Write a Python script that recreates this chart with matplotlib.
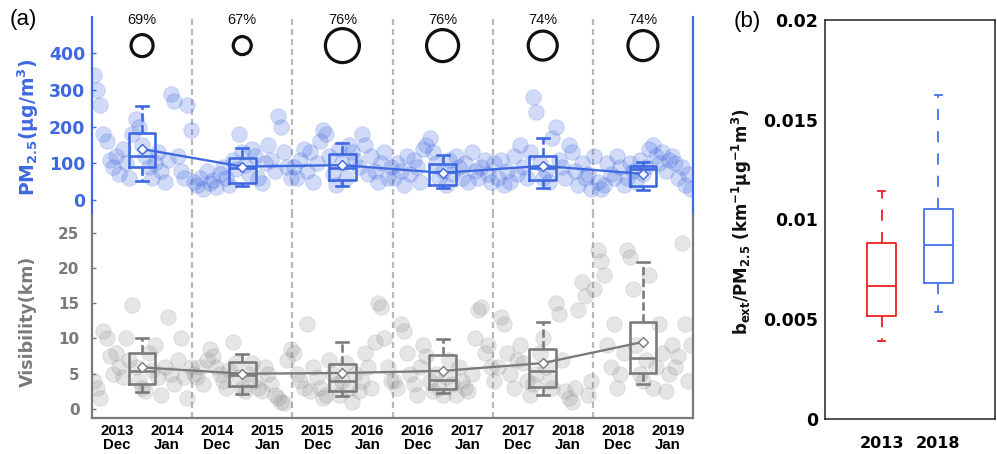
import numpy as np
import matplotlib
matplotlib.use('Agg')
import matplotlib.pyplot as plt

plt.rcParams['font.family'] = ['Liberation Sans', 'DejaVu Sans']
plt.rcParams['mathtext.fontset'] = 'custom'
plt.rcParams['mathtext.rm'] = 'DejaVu Sans:bold'
plt.rcParams['mathtext.it'] = 'DejaVu Sans:bold'
plt.rcParams['mathtext.bf'] = 'DejaVu Sans:bold'
plt.rcParams['mathtext.default'] = 'rm'
plt.rcParams['lines.scale_dashes'] = False

# ---------------- data ----------------
season_tick_labels = ["2013\nDec", "2014\nJan", "2014\nDec", "2015\nJan", "2015\nDec", "2016\nJan",
                      "2016\nDec", "2017\nJan", "2017\nDec", "2018\nJan", "2018\nDec", "2019\nJan"]
percent_labels = ["69%", "67%", "76%", "76%", "74%", "74%"]
circle_diam_px = [22, 18, 34, 32, 29, 30]

pm_daily = [
    [340, 300, 260, 180, 160, 110, 90, 120, 70, 140, 100, 60, 180, 220, 200, 150, 120, 90, 60, 100, 130, 80, 50, 110, 290, 270, 120, 80, 60, 260, 190],
    [50, 40, 60, 30, 80, 45, 55, 35, 70, 90, 60, 40, 110, 85, 180, 130, 95, 70, 140, 120, 60, 45, 100, 150, 110, 80, 230, 200, 130, 90, 60],
    [90, 60, 110, 140, 80, 130, 50, 100, 160, 190, 180, 120, 70, 40, 140, 100, 60, 150, 130, 110, 90, 180, 150, 70, 120, 80, 50, 100, 130, 60, 90],
    [60, 100, 80, 40, 120, 70, 110, 90, 50, 140, 150, 170, 130, 100, 60, 80, 40, 110, 70, 120, 90, 60, 100, 50, 130, 80, 60, 90, 110, 70, 50],
    [100, 60, 110, 40, 80, 50, 120, 70, 150, 90, 60, 130, 280, 240, 100, 60, 80, 50, 170, 200, 110, 90, 60, 150, 130, 80, 40, 100, 60, 70, 30],
    [120, 50, 30, 40, 100, 70, 60, 120, 90, 40, 60, 100, 80, 50, 110, 70, 90, 140, 150, 120, 100, 130, 80, 110, 120, 100, 60, 90, 40, 70, 30],
]
vis_daily = [
    [4, 3, 1.5, 11, 10, 7.5, 5, 8, 6, 4.5, 10, 7, 14.7, 6, 4, 3, 2.5, 8, 5.5, 9, 4.5, 2, 6, 13, 5, 3.5, 7, 10, 4.5, 1.5, 6],
    [5, 4.5, 6, 3.5, 7, 8.5, 7.5, 6, 5, 4, 3, 5.5, 9.5, 6.5, 4.5, 3, 2.5, 5, 6.5, 4, 3, 2.5, 6, 5, 3.5, 2, 1.5, 1, 0.8, 7, 8.5],
    [8, 5, 4, 3, 12, 2.5, 6, 4.5, 3, 1.5, 2, 7, 5, 3.5, 2, 4, 6.5, 3, 1, 5, 2.5, 4, 8, 6, 3, 9.5, 15, 14.5, 10, 6, 4],
    [4, 3, 12, 11, 8, 5, 3.5, 2, 6, 9, 7.5, 4, 2.5, 5, 3, 2, 4.5, 7, 3.5, 2, 6, 4, 3, 2.5, 5, 10, 14, 14.5, 8, 9, 6],
    [4, 6, 13, 12, 8, 5, 3, 7, 9, 6.5, 4, 2, 3.5, 5, 8, 10, 6, 4, 3, 15, 13.5, 7, 2.5, 1.5, 1, 3, 14, 18, 16, 2, 4],
    [17, 22.5, 21, 19, 9, 6, 12, 3, 5, 8, 22.5, 21.5, 17, 9, 5, 4, 7, 19, 3, 6, 12, 8, 2.5, 5, 9, 6, 7.5, 23.5, 12, 4, 9],
]

pm_whislo = [52, 39, 38, 32, 32, 27]
pm_q1 = [89, 47, 54, 41, 54, 39]
pm_med = [120, 86, 88, 75, 86, 84]
pm_q3 = [184, 114, 126, 97, 121, 93]
pm_whishi = [256, 142, 156, 123, 170, 104]
pm_mean = [139, 91, 95, 74, 93, 71]

vis_whislo = [2.4, 2.1, 1.9, 2.3, 2.0, 3.6]
vis_q1 = [3.5, 3.2, 2.5, 2.9, 3.1, 5.1]
vis_med = [5.4, 4.8, 3.9, 4.1, 5.4, 7.2]
vis_q3 = [8.0, 6.7, 6.4, 7.6, 8.5, 12.4]
vis_whishi = [10.1, 7.8, 9.5, 9.9, 12.4, 20.8]
vis_mean = [5.9, 5.0, 5.1, 5.4, 6.5, 9.5]

ratio_years = ["2013", "2018"]
ratio_whislo = [0.00392, 0.00534]
ratio_q1 = [0.00518, 0.0068]
ratio_med = [0.00665, 0.0087]
ratio_q3 = [0.0088, 0.01052]
ratio_whishi = [0.01145, 0.01624]

# ---------------- styling ----------------
BLUE = '#3d68e0'
GREY = '#7a7a7a'
DASHC = '#b8b8b8'
W, H = 997, 454
fig = plt.figure(figsize=(W / 100, H / 100), dpi=100)
PX = 0.72  # points per pixel

ndays = 62
nseason = 6
centers = [ndays * i + ndays / 2 for i in range(nseason)]
tick_pos = []
for i in range(nseason):
    tick_pos += [ndays * i + ndays / 4, ndays * i + 3 * ndays / 4]

def fx(px):
    return px / W

def fy(py):
    return (H - py) / H

ax_pm = fig.add_axes([fx(92), fy(215), fx(693) - fx(92), fy(17) - fy(215)])
ax_vis = fig.add_axes([fx(92), fy(418), fx(693) - fx(92), fy(215) - fy(418)])

def stats(lo, q1, med, q3, hi):
    return [dict(whislo=a, q1=b, med=c, q3=d, whishi=e, fliers=[]) for a, b, c, d, e in zip(lo, q1, med, q3, hi)]

def draw_panel(ax, daily, st, means, color, scol, salpha):
    for i, vals in enumerate(daily):
        days = ndays * i + 1 + 2 * np.arange(len(vals))
        ax.scatter(days, vals, s=(15.5 * PX) ** 2, color=scol, alpha=salpha, linewidths=0.6, zorder=2)
    lw = 2.6 * PX
    ax.bxp(st, positions=centers, widths=16.5, capwidths=7.5, showfliers=False,
           boxprops=dict(color=color, lw=lw), medianprops=dict(color=color, lw=lw),
           whiskerprops=dict(color=color, lw=lw, linestyle=(0, (6, 2.5))),
           capprops=dict(color=color, lw=lw), manage_ticks=False)
    ax.plot(centers, means, color=color, lw=2.3 * PX, marker='D', ms=5.5, mfc='white',
            mec=color, mew=1.0, zorder=4)
    for k in range(1, nseason):
        ax.axvline(ndays * k, color=DASHC, lw=2.2 * PX, linestyle=(0, (4.3, 2.9)), zorder=1)
    ax.set_xlim(0, ndays * nseason)

draw_panel(ax_pm, pm_daily, stats(pm_whislo, pm_q1, pm_med, pm_q3, pm_whishi), pm_mean,
           BLUE, '#4169e1', 0.24)
draw_panel(ax_vis, vis_daily, stats(vis_whislo, vis_q1, vis_med, vis_q3, vis_whishi), vis_mean,
           GREY, '#8c8c8c', 0.22)

ax_pm.set_ylim(-41, 499)
ax_vis.set_ylim(-1.28, 27.5)

# PM axis styling
ax_pm.spines['top'].set_visible(False)
ax_pm.spines['bottom'].set_visible(False)
for s in ['left', 'right']:
    ax_pm.spines[s].set_color(BLUE)
    ax_pm.spines[s].set_linewidth(2.2 * PX)
ax_pm.set_xticks([])
ax_pm.set_yticks([0, 100, 200, 300, 400])
ax_pm.set_yticklabels(['0', '100', '200', '300', '400'], family='DejaVu Sans', fontweight='bold',
                      fontsize=12.5)
ax_pm.tick_params(axis='y', direction='in', length=3, width=1, color=BLUE, labelcolor=BLUE, pad=5)

# circles and percentages
for i in range(nseason):
    ax_pm.scatter([centers[i]], [421], s=(circle_diam_px[i] * PX) ** 2, facecolors='none',
                  edgecolors='#111111', linewidths=3.2 * PX, clip_on=False, zorder=5)
    ax_pm.text(centers[i], 491, percent_labels[i], ha='center', va='center', fontsize=10.5,
               color='#111111')

# Visibility axis styling
ax_vis.spines['top'].set_visible(False)
for s in ['left', 'right', 'bottom']:
    ax_vis.spines[s].set_color(GREY)
    ax_vis.spines[s].set_linewidth(2.2 * PX)
ax_vis.set_yticks([0, 5, 10, 15, 20, 25])
ax_vis.set_yticklabels(['0', '5', '10', '15', '20', '25'], family='DejaVu Sans', fontweight='bold',
                       fontsize=11)
ax_vis.tick_params(axis='y', direction='in', length=3, width=1, color=GREY, labelcolor=GREY, pad=9)
ax_vis.set_xticks(tick_pos)
ax_vis.set_xticklabels(season_tick_labels, fontsize=10.8, fontweight='bold', linespacing=1.0)
ax_vis.tick_params(axis='x', length=0, pad=4)

fig.text(fx(28), fy(127), r"PM$_{2.5}$(μg/m$^{3}$)", rotation=90, ha='center', va='center',
         color=BLUE, fontsize=13.5, fontweight='bold', family='DejaVu Sans')
fig.text(fx(28), fy(321), "Visibility(km)", rotation=90, ha='center', va='center',
         color=GREY, fontsize=12.5, fontweight='bold', family='DejaVu Sans')
fig.text(fx(23), fy(19), "(a)", ha='center', va='center', fontsize=16)

# ---------------- panel (b) ----------------
ax_b = fig.add_axes([fx(825), fy(419), fx(995) - fx(825), fy(20) - fy(419)])
ratio_colors = ['#ee2020', '#4472e8']
rst = stats(ratio_whislo, ratio_q1, ratio_med, ratio_q3, ratio_whishi)
for j in range(2):
    c = ratio_colors[j]
    ax_b.bxp([rst[j]], positions=[j + 1], widths=0.51, capwidths=0.12, showfliers=False,
             boxprops=dict(color=c, lw=1.3), medianprops=dict(color=c, lw=1.3),
             whiskerprops=dict(color=c, lw=1.3, linestyle=(0, (8, 8))),
             capprops=dict(color=c, lw=1.3), manage_ticks=False)
ax_b.set_xlim(0, 3)
ax_b.set_ylim(0, 0.02)
ax_b.set_yticks([0, 0.005, 0.01, 0.015, 0.02])
ax_b.set_yticklabels(['0', '0.005', '0.01', '0.015', '0.02'], fontsize=12.5, fontweight='bold',
                     family='DejaVu Sans')
ax_b.set_xticks([1, 2])
ax_b.set_xticklabels(ratio_years, fontsize=11.5, fontweight='bold', family='DejaVu Sans')
ax_b.tick_params(axis='both', length=0)
ax_b.tick_params(axis='y', pad=5)
ax_b.tick_params(axis='x', pad=12)
for s in ax_b.spines.values():
    s.set_color('#222222')
    s.set_linewidth(1.1)
fig.text(fx(742), fy(222), r"b$_{ext}$/PM$_{2.5}$ (km$^{-1}$μg$^{-1}$m$^{3}$)", rotation=90,
         ha='center', va='center', fontsize=12, fontweight='bold', color='#111111',
         family='DejaVu Sans')
fig.text(fx(747), fy(22), "(b)", ha='center', va='center', fontsize=16)

fig.savefig('out.png', dpi=100)
